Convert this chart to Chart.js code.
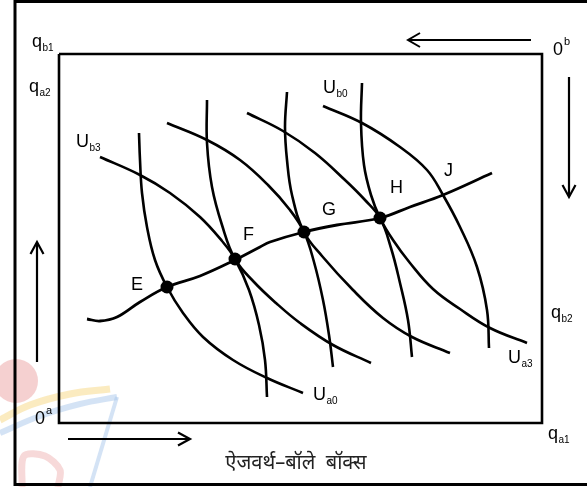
<!DOCTYPE html>
<html><head><meta charset="utf-8">
<script src="https://cdn.jsdelivr.net/npm/chart.js@4"></script>
<style>html,body{margin:0;padding:0;background:#fff;}#wrap{width:587px;height:487px;}</style>
</head><body><div id="wrap"><canvas id="c" width="587" height="487"></canvas></div>
<script>
// ---- Data (diagram units: x to the right, y downward, box 0..587 x 0..487) ----
// Indifference curves of A (convex to 0a)
const Ua0 = [[139,133],[140,160],[142,193],[147,227],[155,260],[167,287],[183,313],[203,337],[233,360],[267,378],[303,393]];
const Ua1 = [[207,100],[207,143],[212,187],[222,225],[235,259],[254,282],[276,303],[300,323],[333,345],[371,363]];
const Ua2 = [[287,92],[285,127],[287,160],[292,195],[304,232],[322,256],[353,290],[383,318],[412,337],[450,353]];
const Ua3 = [[362,83],[361,123],[364,165],[371,195],[380,218],[393,240],[410,263],[433,289],[460,309],[490,328],[527,343]];
// Indifference curves of B (convex to 0b)
const Ub3 = [[100,157],[140,175],[170,193],[200,217],[222,241],[235,259],[249,290],[259,325],[265,360],[267,397]];
const Ub2 = [[167,123],[207,140],[240,160],[268,185],[290,210],[304,232],[314,262],[323,300],[329,335],[333,367]];
const Ub1 = [[247,113],[283,131],[315,153],[345,180],[365,200],[380,218],[391,248],[400,283],[408,320],[412,357]];
const Ub0 = [[323,106],[362,123],[400,147],[427,170],[443,195],[460,227],[477,267],[487,310],[489,348]];
// Contract curve
const contract = [[87,319],[100,321],[117,317],[140,302],[167,287],[200,276],[235,260],[260,247],[270,242],[304,232],[337,225],[380,218],[410,207],[443,195],[492,173]];
// Tangency points
const pointNames = ['E','F','G','H'];
const pointX = [167,235,304,380];
const pointY = [287,259,232,218];
// Box
const innerBox = [[59,54],[542,54],[542,423],[59,423],[59,54]];
const outerFrame = [[587,1.5],[15,1.5],[15,484.5],[587,484.5]];
// Arrows
const arrowTopShaft = [[531,40],[409,40]];
const arrowTopHead = [[420,33],[408,40],[420,47]];
const arrowRightShaft = [[569,77],[569,196]];
const arrowRightHead = [[562.5,185],[569,197],[575.5,185]];
const arrowLeftShaft = [[37,362],[37,243]];
const arrowLeftHead = [[30.5,254],[37,242],[43.5,254]];
const arrowBottomShaft = [[68,439],[189,439]];
const arrowBottomHead = [[178,432.5],[190,439],[178,445.5]];
// Watermark (faint)
const wmCircle = [[16,381]];
const wmYellow = [[0,420],[30,405],[70,394],[110,389]];
const wmBlue = [[0,433],[40,416],[80,404],[117,397]];
const wmBlueStem = [[117,397],[90,487]];
const wmRed = [[22,487],[24,456],[45,456],[60,470],[58,487]];
// Text labels
const labelMain = ['q','q','U','U','0','0','q','q','U','U','E','F','G','H','J'];
const labelSub  = ['b1','a2','b3','b0','','','b2','a1','a3','a0','','','','',''];
const labelSup  = ['','','','','b','a','','','','','','','','',''];
const labelX = [32,29,76,323,553,35,551,548,508,313,131,243,322,390,444];
const labelY = [47,92,147,93,55,424,318,439,363,400,290,240,215,193,176];
const caption = 'ऐजवर्थ–बॉले  बॉक्स';
const captionX = 296, captionY = 469;

const P = a => a.map(p => ({x:p[0], y:p[1]}));
const lineDs = (arr, w, color, tension, order) => ({
  data: P(arr), showLine: true, borderColor: color || '#000', borderWidth: w,
  pointRadius: 0, tension: tension || 0, fill: false, order: order || 0,
  borderCapStyle: 'butt', borderJoinStyle: 'miter'
});

const curveW = 2.6;
const datasets = [
  { data: pointX.map((v,i)=>({x:v,y:pointY[i]})), showLine:false, pointRadius:6.5,
    pointBackgroundColor:'#000', pointBorderColor:'#000', pointBorderWidth:0, order:-2 },
  lineDs(contract, 2.8, '#000', 0.4),
  lineDs(Ua0, curveW, '#000', 0.4), lineDs(Ua1, curveW, '#000', 0.4),
  lineDs(Ua2, curveW, '#000', 0.4), lineDs(Ua3, curveW, '#000', 0.4),
  lineDs(Ub3, curveW, '#000', 0.4), lineDs(Ub2, curveW, '#000', 0.4),
  lineDs(Ub1, curveW, '#000', 0.4), lineDs(Ub0, curveW, '#000', 0.4),
  lineDs(innerBox, 2.6), lineDs(outerFrame, 3),
  lineDs(arrowTopShaft, 2), lineDs(arrowTopHead, 2),
  lineDs(arrowRightShaft, 2.2), lineDs(arrowRightHead, 2.2),
  lineDs(arrowLeftShaft, 2.2), lineDs(arrowLeftHead, 2.2),
  lineDs(arrowBottomShaft, 2.2), lineDs(arrowBottomHead, 2.2),
  { data: P(wmCircle), showLine:false, pointRadius:22, pointBackgroundColor:'rgba(232,150,150,0.45)', pointBorderWidth:0, order:10 },
  lineDs(wmYellow, 7, 'rgba(247,215,130,0.5)', 0.4, 10),
  lineDs(wmBlue, 6, 'rgba(170,200,235,0.5)', 0.4, 10),
  lineDs(wmBlueStem, 4, 'rgba(170,200,235,0.5)', 0, 10),
  lineDs(wmRed, 7, 'rgba(235,160,160,0.4)', 0.3, 10)
];

const textPlugin = {
  id: 'texts',
  afterDatasetsDraw(chart) {
    const {ctx, scales:{x, y}} = chart;
    ctx.save();
    ctx.fillStyle = '#000';
    ctx.textBaseline = 'alphabetic';
    ctx.textAlign = 'left';
    const fam = '"Liberation Sans", Arial, sans-serif';
    for (let i = 0; i < labelMain.length; i++) {
      const px = x.getPixelForValue(labelX[i]);
      const py = y.getPixelForValue(labelY[i]);
      ctx.font = '18px ' + fam;
      ctx.fillText(labelMain[i], px, py);
      const w = ctx.measureText(labelMain[i]).width;
      if (labelSub[i]) { ctx.font = '10px ' + fam; ctx.fillText(labelSub[i], px + w + 0.5, py + 4); }
      if (labelSup[i]) { ctx.font = '11px ' + fam; ctx.fillText(labelSup[i], px + w + 1, py - 10); }
    }
    ctx.textAlign = 'center';
    ctx.fillStyle = '#222';
    ctx.font = '20px "Noto Sans Devanagari", "Noto Sans", "Lohit Devanagari", "FreeSans", sans-serif';
    ctx.fillText(caption, x.getPixelForValue(captionX), y.getPixelForValue(captionY));
    ctx.restore();
  }
};

new Chart(document.getElementById('c'), {
  type: 'scatter',
  data: { datasets },
  options: {
    responsive: false, animation: false, devicePixelRatio: 1,
    layout: { padding: 0, autoPadding: false },
    plugins: { legend: { display: false }, tooltip: { enabled: false } },
    scales: {
      x: { type: 'linear', min: 0, max: 587, display: false },
      y: { type: 'linear', min: 0, max: 487, reverse: true, display: false }
    },
    events: []
  },
  plugins: [textPlugin]
});
</script></body></html>
